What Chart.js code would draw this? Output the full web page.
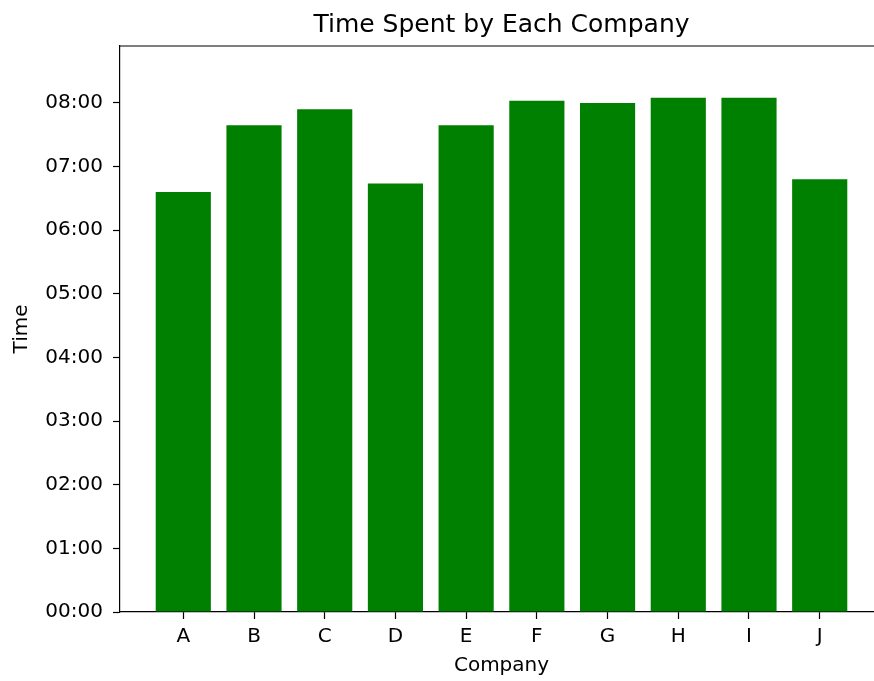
<!DOCTYPE html>
<html>
<head>
<meta charset="utf-8">
<script src="https://cdn.jsdelivr.net/npm/chart.js@4/dist/chart.umd.min.js"></script>
<style>
  html, body { margin: 0; padding: 0; background: #fff; overflow: hidden; }
  #wrap { width: 884px; height: 681px; }
</style>
</head>
<body>
<div id="wrap"><canvas id="timeChart"></canvas></div>
<script>
const companies = ['A', 'B', 'C', 'D', 'E', 'F', 'G', 'H', 'I', 'J'];
const timeSpent = ['06:36', '07:39', '07:54', '06:44', '07:39', '08:02', '08:00', '08:05', '08:05', '06:48'];
const yTickStep = 60; // minutes
const yMax = 533.7;   // minutes, top of axis

const toMinutes = (s) => {
    const [h, m] = s.split(':').map(Number);
    return h * 60 + m;
};
const fmtTime = (v) => {
    const h = Math.floor(v / 60);
    const m = Math.round(v % 60);
    return `${String(h).padStart(2, '0')}:${String(m).padStart(2, '0')}`;
};

const barData = companies.map((c, i) => ({ x: i, y: toMinutes(timeSpent[i]) }));

// top spine, like matplotlib's box (right spine falls outside the picture)
const frame = {
    id: 'frame',
    afterDraw(chart) {
        const { ctx, chartArea } = chart;
        ctx.save();
        ctx.strokeStyle = '#000';
        ctx.lineWidth = 1.2;
        ctx.beginPath();
        ctx.moveTo(chartArea.left, chartArea.top);
        ctx.lineTo(chartArea.right, chartArea.top);
        ctx.stroke();
        ctx.restore();
    }
};

const font = { family: 'DejaVu Sans', size: 20 };

new Chart('timeChart', {
    type: 'bar',
    data: {
        datasets: [{
            data: barData,
            backgroundColor: '#008000',
            borderWidth: 0,
            categoryPercentage: 1,
            barPercentage: 0.78
        }]
    },
    options: {
        responsive: true,
        maintainAspectRatio: false,
        animation: false,
        layout: { padding: { left: 0, right: 1, top: 0, bottom: 0 } },
        plugins: {
            legend: { display: false },
            tooltip: { enabled: false },
            title: {
                display: true,
                text: 'Time Spent by Each Company',
                fullSize: false,
                color: '#000',
                font: { family: 'DejaVu Sans', size: 25, weight: 'normal' },
                padding: { top: 10, bottom: 6 }
            }
        },
        scales: {
            x: {
                type: 'linear',
                offset: false,
                min: -0.895,
                max: companies.length - 1 + 0.895,
                afterBuildTicks: (scale) => {
                    scale.ticks = companies.map((c, i) => ({ value: i }));
                },
                afterFit: (scale) => { scale.height = 69; },
                ticks: {
                    color: '#000',
                    font: font,
                    padding: 6,
                    maxRotation: 0,
                    autoSkip: false,
                    callback: (v) => companies[v]
                },
                grid: { offset: false, drawOnChartArea: false, drawTicks: true, tickLength: 7, tickColor: '#000', tickWidth: 1.2 },
                border: { display: true, color: '#000', width: 1.2 },
                title: { display: true, text: 'Company', color: '#000', font: font, padding: { top: 0, bottom: 3 } }
            },
            y: {
                min: 0,
                max: yMax,
                afterFit: (scale) => { scale.width = 120; },
                ticks: {
                    stepSize: yTickStep,
                    includeBounds: false,
                    color: '#000',
                    font: font,
                    padding: 10,
                    callback: (v) => fmtTime(v)
                },
                grid: { drawOnChartArea: false, drawTicks: true, tickLength: 7, tickColor: '#000', tickWidth: 1.2 },
                border: { display: true, color: '#000', width: 1.2 },
                title: { display: true, text: 'Time', color: '#000', font: font, padding: { top: 10, bottom: 0 } }
            }
        }
    },
    plugins: [frame]
});
</script>
</body>
</html>
